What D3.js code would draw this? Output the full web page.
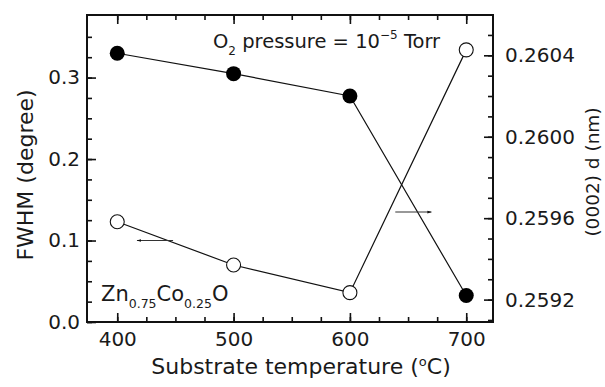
<!DOCTYPE html>
<html>
<head>
<meta charset="utf-8">
<script src="https://cdn.jsdelivr.net/npm/d3@7"></script>
<style>
  body { margin: 0; background: #fff; }
  text { font-family: "DejaVu Sans", sans-serif; fill: #1a1a1a; }
</style>
</head>
<body>
<svg id="chart" width="605" height="387"></svg>
<script>
// substrate temperature (C)
const temps = [400, 500, 600, 700];
// FWHM (degree), open circles, left axis
const fwhm = [0.123, 0.070, 0.036, 0.334];
// (0002) d spacing (nm), filled circles, right axis
const dSpacing = [0.26041, 0.26031, 0.26020, 0.25922];

const xTicks = [400, 500, 600, 700];
const leftTicks = [0.0, 0.1, 0.2, 0.3];
const rightTicks = [0.2592, 0.2596, 0.2600, 0.2604];

const margin = {top: 15, right: 112, bottom: 65, left: 87};
const width = 605, height = 387;

const svg = d3.select('#chart');

const x = d3.scaleLinear()
  .domain([374, 723])
  .range([margin.left, width - margin.right]);

const yL = d3.scaleLinear()
  .domain([0, 0.3768])
  .range([height - margin.bottom, margin.top]);

const yR = d3.scaleLinear()
  .domain([0.259090, 0.260598])
  .range([height - margin.bottom, margin.top]);

const minorX = d3.range(400, 723, 25);
const minorL = d3.range(0, 0.37, 0.025);
const minorR = d3.range(0.2591, 0.26059, 0.0001);

function styleAxis(g) {
  g.select('.domain').remove();
  g.selectAll('.tick line').attr('stroke', '#111').attr('stroke-width', 1.6);
  g.selectAll('.tick text').style('font-size', '20px');
}

// minor ticks (inward)
svg.append('g')
  .attr('transform', `translate(0,${height - margin.bottom})`)
  .call(d3.axisBottom(x).tickValues(minorX).tickSize(-5).tickFormat(''))
  .call(styleAxis);
svg.append('g')
  .attr('transform', `translate(0,${margin.top})`)
  .call(d3.axisTop(x).tickValues(minorX).tickSize(-5).tickFormat(''))
  .call(styleAxis);
svg.append('g')
  .attr('transform', `translate(${margin.left},0)`)
  .call(d3.axisLeft(yL).tickValues(minorL).tickSize(-5).tickFormat(''))
  .call(styleAxis);
svg.append('g')
  .attr('transform', `translate(${width - margin.right},0)`)
  .call(d3.axisRight(yR).tickValues(minorR).tickSize(-5).tickFormat(''))
  .call(styleAxis);

// major ticks with labels
svg.append('g')
  .attr('transform', `translate(0,${height - margin.bottom})`)
  .call(d3.axisBottom(x).tickValues(xTicks).tickSize(-9).tickPadding(10).tickFormat(d3.format('d')))
  .call(styleAxis);
svg.append('g')
  .attr('transform', `translate(0,${margin.top})`)
  .call(d3.axisTop(x).tickValues(xTicks).tickSize(-9).tickFormat(''))
  .call(styleAxis);
svg.append('g')
  .attr('transform', `translate(${margin.left},0)`)
  .call(d3.axisLeft(yL).tickValues(leftTicks).tickSize(-9).tickPadding(7).tickFormat(d3.format('.1f')))
  .call(styleAxis);
svg.append('g')
  .attr('transform', `translate(${width - margin.right},0)`)
  .call(d3.axisRight(yR).tickValues(rightTicks).tickSize(-9).tickPadding(12).tickFormat(d3.format('.4f')))
  .call(styleAxis);

// frame
svg.append('rect')
  .attr('x', margin.left).attr('y', margin.top)
  .attr('width', width - margin.left - margin.right)
  .attr('height', height - margin.top - margin.bottom)
  .attr('fill', 'none').attr('stroke', '#111').attr('stroke-width', 2);

// series lines
const lineL = d3.line().x((d, i) => x(temps[i])).y(d => yL(d));
const lineR = d3.line().x((d, i) => x(temps[i])).y(d => yR(d));

svg.append('path').datum(fwhm).attr('d', lineL)
  .attr('fill', 'none').attr('stroke', '#111').attr('stroke-width', 1.2);
svg.append('path').datum(dSpacing).attr('d', lineR)
  .attr('fill', 'none').attr('stroke', '#111').attr('stroke-width', 1.2);

svg.selectAll('.open').data(fwhm).join('circle')
  .attr('class', 'open')
  .attr('cx', (d, i) => x(temps[i])).attr('cy', d => yL(d)).attr('r', 7)
  .attr('fill', '#fff').attr('stroke', '#111').attr('stroke-width', 1.1);
svg.selectAll('.filled').data(dSpacing).join('circle')
  .attr('class', 'filled')
  .attr('cx', (d, i) => x(temps[i])).attr('cy', d => yR(d)).attr('r', 7.5)
  .attr('fill', '#000');

// arrows pointing to the axis of each series
svg.append('defs').append('marker')
  .attr('id', 'head').attr('viewBox', '0 0 10 10')
  .attr('refX', 9).attr('refY', 5)
  .attr('markerWidth', 5).attr('markerHeight', 4)
  .attr('orient', 'auto')
  .append('path').attr('d', 'M0,2L10,5L0,8Z').attr('fill', '#111');

const arrowL = {x0: 448, x1: 417, y: 0.1};
const arrowR = {x0: 639, x1: 670, y: 0.25963};
svg.append('line')
  .attr('x1', x(arrowL.x0)).attr('x2', x(arrowL.x1))
  .attr('y1', yL(arrowL.y)).attr('y2', yL(arrowL.y))
  .attr('stroke', '#333').attr('stroke-width', 1.1).attr('marker-end', 'url(#head)');
svg.append('line')
  .attr('x1', x(arrowR.x0)).attr('x2', x(arrowR.x1))
  .attr('y1', yR(arrowR.y)).attr('y2', yR(arrowR.y))
  .attr('stroke', '#333').attr('stroke-width', 1.1).attr('marker-end', 'url(#head)');

// annotations
const t1 = svg.append('text').attr('x', 213).attr('y', 48).style('font-size', '19.5px');
t1.append('tspan').text('O');
t1.append('tspan').attr('dy', 7).style('font-size', '12px').text('2');
t1.append('tspan').attr('dy', -7).text(' pressure = 10');
t1.append('tspan').attr('dy', -9).style('font-size', '12px').text('\u22125');
t1.append('tspan').attr('dy', 9).text(' Torr');

const t2 = svg.append('text').attr('x', 101).attr('y', 301).style('font-size', '21px');
t2.append('tspan').text('Zn');
t2.append('tspan').attr('dy', 7).style('font-size', '12.5px').text('0.75');
t2.append('tspan').attr('dy', -7).text('Co');
t2.append('tspan').attr('dy', 7).style('font-size', '12.5px').text('0.25');
t2.append('tspan').attr('dy', -7).text('O');

// axis titles
const xt = svg.append('text').attr('x', 301).attr('y', 374)
  .attr('text-anchor', 'middle').style('font-size', '22px');
xt.append('tspan').text('Substrate temperature (');
xt.append('tspan').attr('dy', -8).style('font-size', '13px').text('o');
xt.append('tspan').attr('dy', 8).text('C)');

svg.append('text')
  .attr('transform', 'translate(33,175) rotate(-90)')
  .attr('text-anchor', 'middle').style('font-size', '22px')
  .text('FWHM (degree)');

svg.append('text')
  .attr('transform', 'translate(599,172) rotate(-90)')
  .attr('text-anchor', 'middle').style('font-size', '18.5px')
  .text('(0002) d (nm)');
</script>
</body>
</html>
